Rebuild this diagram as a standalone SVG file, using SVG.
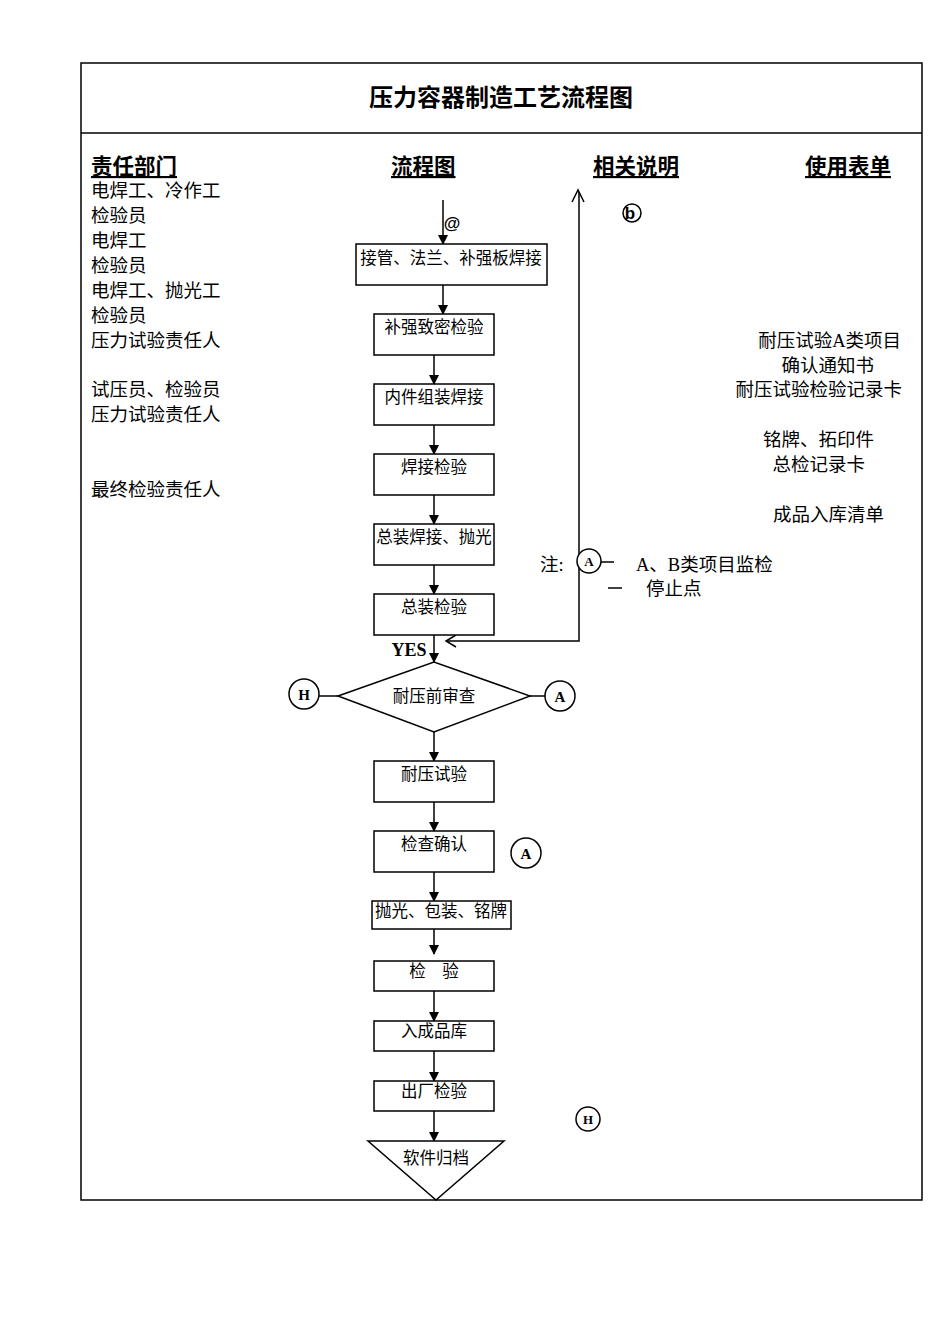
<svg xmlns="http://www.w3.org/2000/svg" width="950" height="1344" viewBox="0 0 950 1344">
<style>
.t{font-family:"Liberation Serif","Noto Sans CJK SC",serif;font-size:18.5px;fill:#000}
.c{text-anchor:middle;font-size:16.5px}
.h{font-family:"Liberation Sans","Noto Sans CJK SC",sans-serif;font-size:21.5px;text-decoration:underline;font-weight:bold}
.b{fill:#fff;stroke:#000;stroke-width:1.5}
.l{stroke:#000;stroke-width:1.5;fill:none}
.m{font-family:"Liberation Serif",serif;font-weight:bold;font-size:15px;text-anchor:middle}
</style>
<defs><marker id="a" markerWidth="10" markerHeight="10" refX="9" refY="5" orient="auto" markerUnits="userSpaceOnUse"><path d="M0,0 L10,5 L0,10 z"/></marker></defs>
<rect width="950" height="1344" fill="#fff"/>
<rect x="81" y="63" width="841" height="1137" class="l" stroke-width="2"/>
<line x1="81" y1="133" x2="922" y2="133" class="l"/>
<text x="501" y="106" text-anchor="middle" style="font-family:'Liberation Sans','Noto Sans CJK SC',sans-serif;font-size:24px;font-weight:bold">压力容器制造工艺流程图</text>
<text x="91" y="174" class="h">责任部门</text>
<text x="391" y="174" class="h">流程图</text>
<text x="593" y="174" class="h">相关说明</text>
<text x="805" y="174" class="h">使用表单</text>
<g class="t">
<text x="91" y="197">电焊工、冷作工</text><text x="91" y="222">检验员</text><text x="91" y="247">电焊工</text><text x="91" y="272">检验员</text><text x="91" y="297">电焊工、抛光工</text><text x="91" y="322">检验员</text><text x="91" y="347">压力试验责任人</text><text x="91" y="396">试压员、检验员</text><text x="91" y="421">压力试验责任人</text><text x="91" y="496">最终检验责任人</text>
</g>
<g class="t" text-anchor="end">
<text x="901" y="347">耐压试验A类项目</text><text x="874" y="372">确认通知书</text><text x="902" y="396">耐压试验检验记录卡</text><text x="874" y="446">铭牌、拓印件</text><text x="865" y="471">总检记录卡</text><text x="884" y="521">成品入库清单</text>
</g>
<text x="540" y="571" class="t">注:</text>
<text x="636" y="571" class="t">A、B类项目监检</text>
<line x1="608" y1="588" x2="622" y2="588" class="l" stroke-width="1"/>
<text x="646" y="595" class="t">停止点</text>
<line x1="601" y1="562" x2="614" y2="562" class="l" stroke-width="1"/>
<g id="connectors">
<line x1="443" y1="200" x2="443" y2="244" class="l" marker-end="url(#a)"/>
<line x1="443" y1="285" x2="443" y2="314" class="l" marker-end="url(#a)"/>
<line x1="434" y1="355" x2="434" y2="384" class="l" marker-end="url(#a)"/>
<line x1="434" y1="425" x2="434" y2="454" class="l" marker-end="url(#a)"/>
<line x1="434" y1="495" x2="434" y2="524" class="l" marker-end="url(#a)"/>
<line x1="434" y1="565" x2="434" y2="594" class="l" marker-end="url(#a)"/>
<line x1="434" y1="635" x2="434" y2="662" class="l" marker-end="url(#a)"/>
<line x1="434" y1="732" x2="434" y2="761" class="l" marker-end="url(#a)"/>
<line x1="434" y1="802" x2="434" y2="831" class="l" marker-end="url(#a)"/>
<line x1="434" y1="872" x2="434" y2="901" class="l" marker-end="url(#a)"/>
<line x1="434" y1="929" x2="434" y2="954" class="l" marker-end="url(#a)"/>
<line x1="434" y1="991" x2="434" y2="1021" class="l" marker-end="url(#a)"/>
<line x1="434" y1="1051" x2="434" y2="1081" class="l" marker-end="url(#a)"/>
<line x1="434" y1="1111" x2="434" y2="1141" class="l" marker-end="url(#a)"/>
<path d="M446,641 H579 V192" class="l"/>
<path d="M572,202 L578,190 L584,202" class="l"/>
<path d="M456,635 L446,641 L456,647" class="l" stroke-width="2"/>
<line x1="319" y1="696" x2="338" y2="696" class="l"/>
<line x1="530" y1="696" x2="545" y2="696" class="l"/>
</g>
<text x="452" y="229" class="m" style="font-family:'Liberation Sans',sans-serif;font-size:17px">@</text>
<text x="409" y="656" class="m" style="font-size:18px">YES</text>
<g id="n1"><rect x="356" y="244" width="191" height="41" class="b"/><text x="451" y="264" class="t c">接管、法兰、补强板焊接</text></g>
<g id="n2"><rect x="374" y="314" width="120" height="41" class="b"/><text x="434" y="333" class="t c">补强致密检验</text></g>
<g id="n3"><rect x="374" y="384" width="120" height="41" class="b"/><text x="434" y="403" class="t c">内件组装焊接</text></g>
<g id="n4"><rect x="374" y="454" width="120" height="41" class="b"/><text x="434" y="473" class="t c">焊接检验</text></g>
<g id="n5"><rect x="374" y="524" width="120" height="41" class="b"/><text x="434" y="543" class="t c">总装焊接、抛光</text></g>
<g id="n6"><rect x="374" y="594" width="120" height="41" class="b"/><text x="434" y="613" class="t c">总装检验</text></g>
<g id="n7"><path d="M338,696 L434,662 L530,696 L434,732 Z" class="b"/><text x="434" y="702" class="t c">耐压前审查</text></g>
<g id="n8"><rect x="374" y="761" width="120" height="41" class="b"/><text x="434" y="780" class="t c">耐压试验</text></g>
<g id="n9"><rect x="374" y="831" width="120" height="41" class="b"/><text x="434" y="850" class="t c">检查确认</text></g>
<g id="n10"><rect x="372" y="901" width="139" height="28" class="b"/><text x="441" y="917" class="t c">抛光、包装、铭牌</text></g>
<g id="n11"><rect x="374" y="961" width="120" height="30" class="b"/><text x="434" y="977" class="t c">检　验</text></g>
<g id="n12"><rect x="374" y="1021" width="120" height="30" class="b"/><text x="434" y="1037" class="t c">入成品库</text></g>
<g id="n13"><rect x="374" y="1081" width="120" height="30" class="b"/><text x="434" y="1097" class="t c">出厂检验</text></g>
<g id="n14"><path d="M368,1141 L504,1141 L436,1200 Z" class="b"/><text x="436" y="1164" class="t c">软件归档</text></g>
<g id="s1"><circle cx="304" cy="694" r="15" class="b"/><text x="304" y="700" class="m">H</text></g>
<g id="s2"><circle cx="560" cy="696" r="15" class="b"/><text x="560" y="702" class="m">A</text></g>
<g id="s3"><circle cx="526" cy="853" r="15" class="b"/><text x="526" y="859" class="m">A</text></g>
<g id="s4"><circle cx="589" cy="561" r="12" class="b"/><text x="589" y="566" class="m" style="font-size:13px">A</text></g>
<g id="s5"><circle cx="588" cy="1119" r="12" class="b"/><text x="588" y="1124" class="m" style="font-size:13px">H</text></g>
<g id="s6"><circle cx="632" cy="213" r="9" class="b"/><text x="630" y="219" class="m" style="font-family:'Liberation Sans',sans-serif;font-size:17px">b</text></g>
</svg>
